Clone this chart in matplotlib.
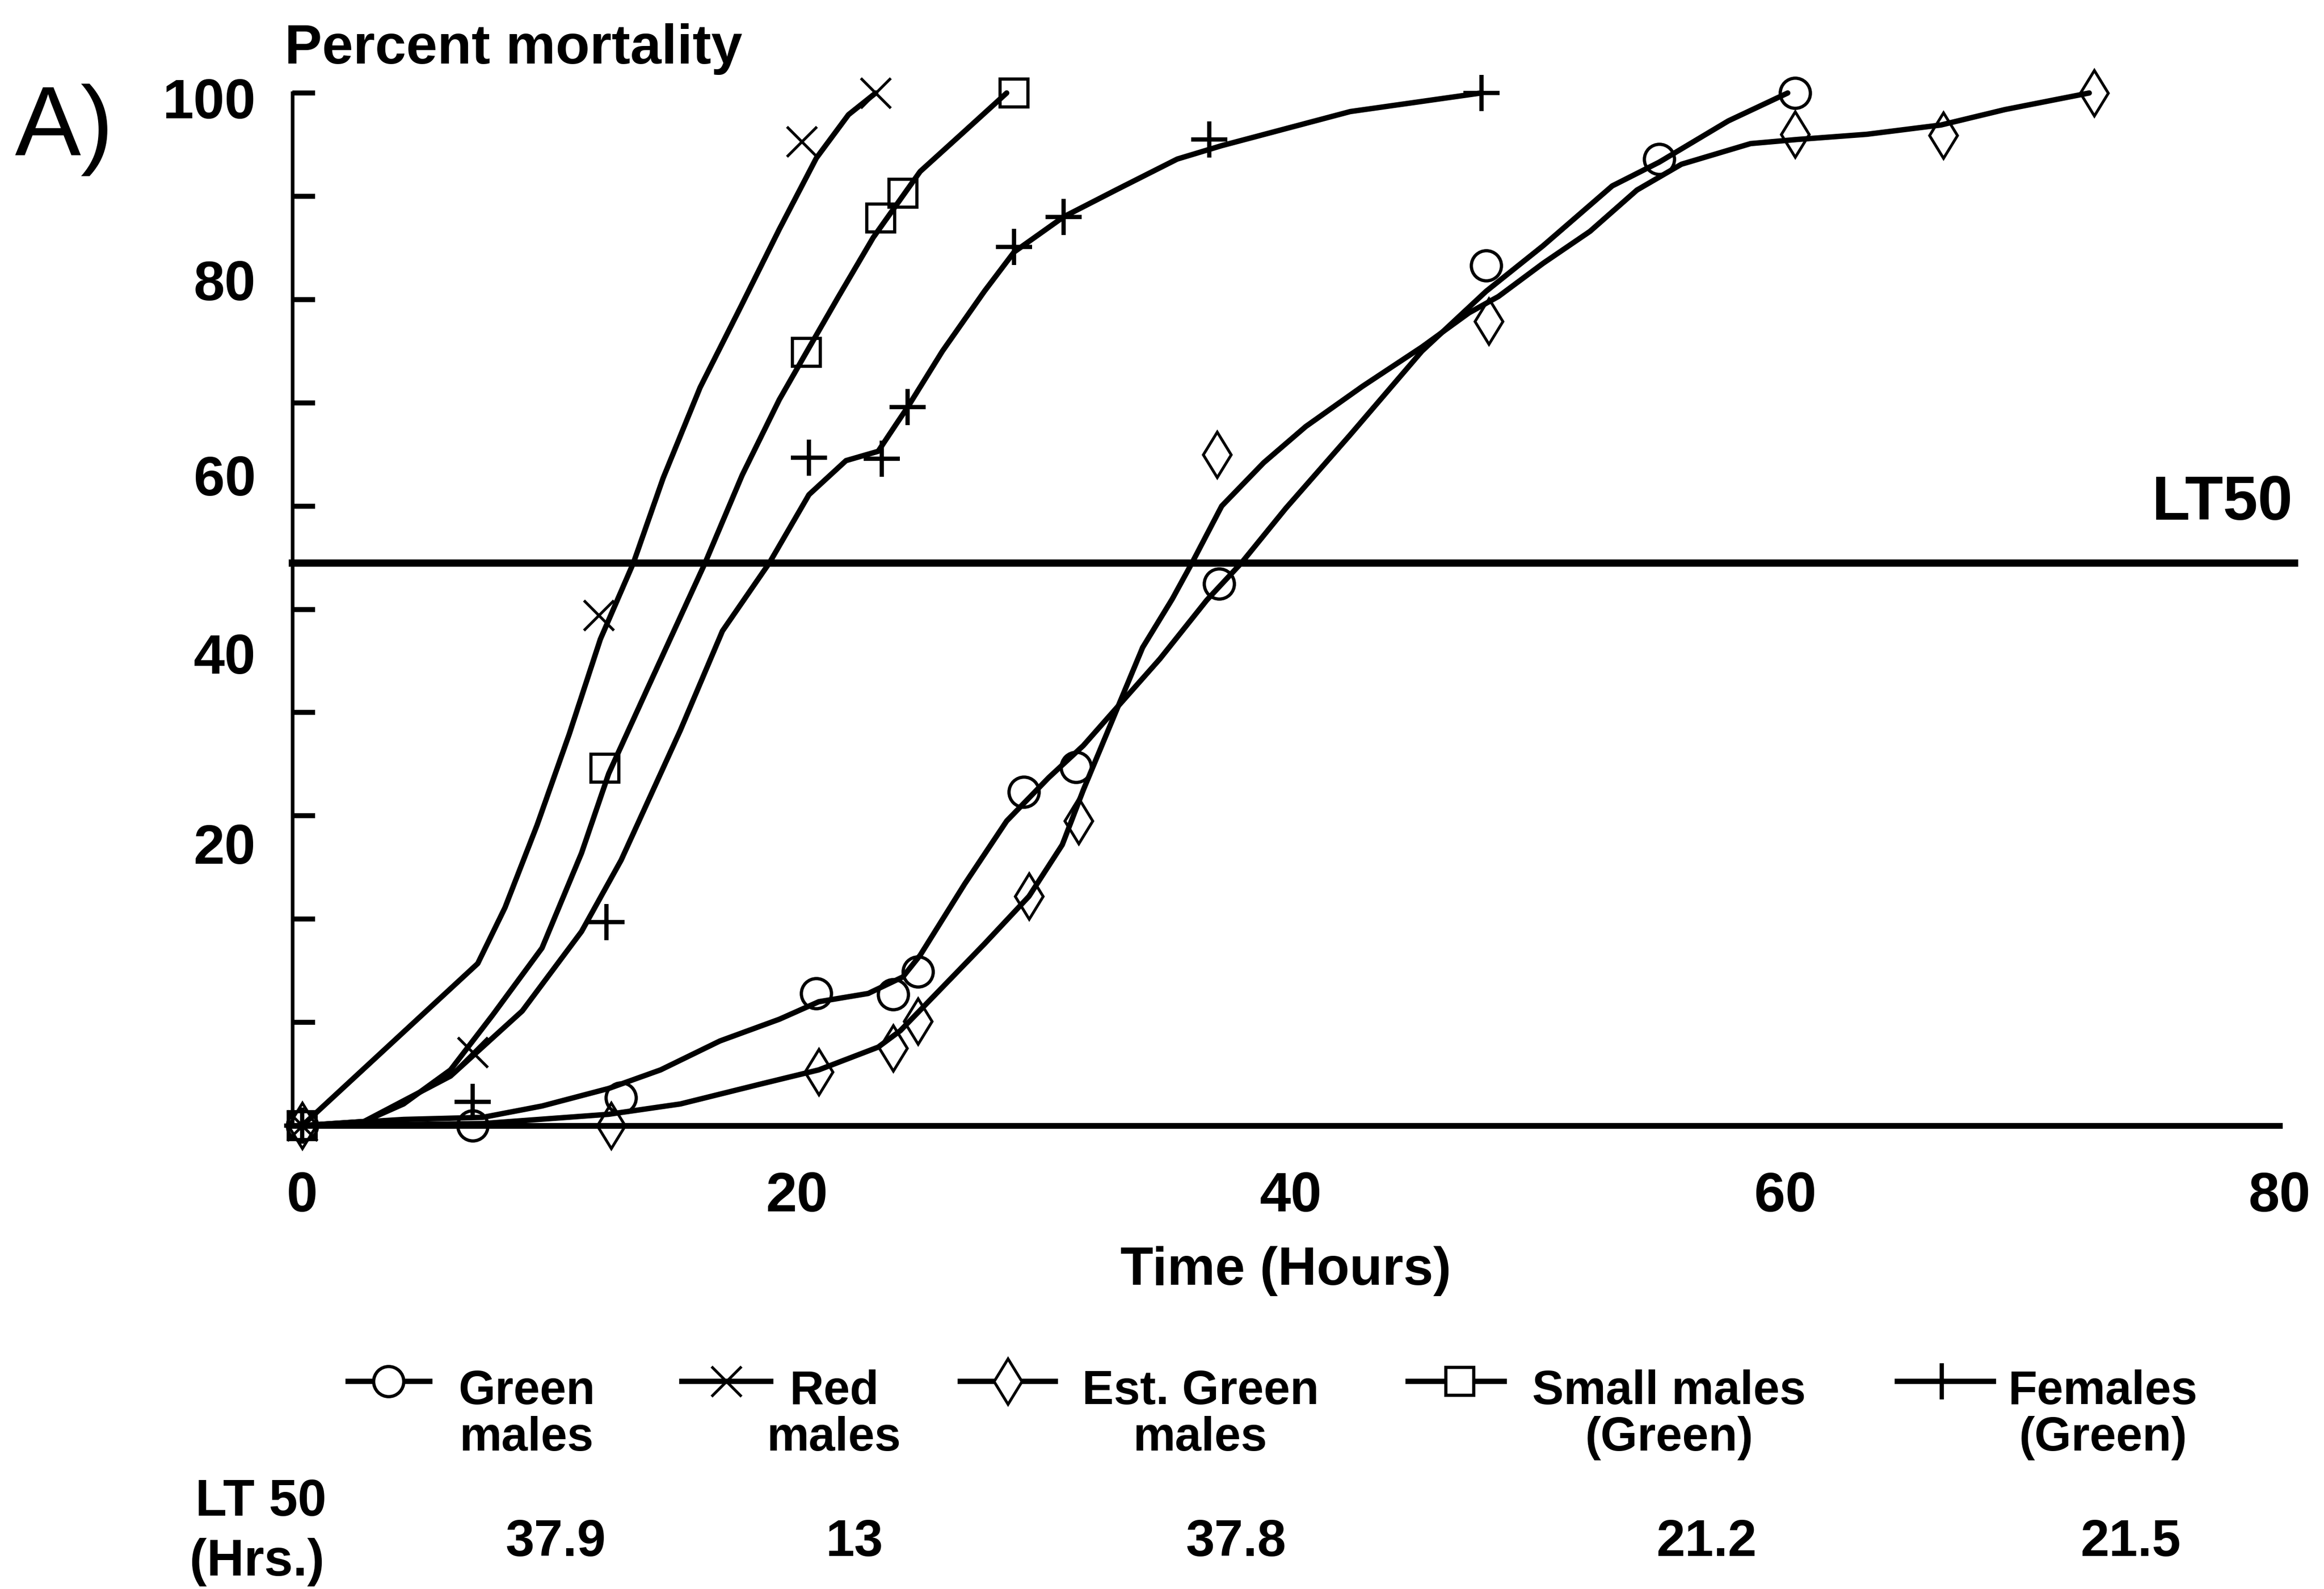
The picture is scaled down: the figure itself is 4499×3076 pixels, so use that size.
import matplotlib
matplotlib.use("Agg")
import matplotlib.pyplot as plt
from matplotlib.lines import Line2D

plt.rcParams['font.family'] = ['Liberation Sans', 'DejaVu Sans']
plt.rcParams['font.weight'] = 'bold'
plt.rcParams['axes.labelweight'] = 'bold'

W, H = 4499, 3076  # output size in pixels (dpi 300)

# ---- data: time (hours) vs percent mortality ----
# observed points (markers)
green_t = [0, 6.9, 12.9, 20.8, 23.9, 24.9, 29.2, 31.3, 37.1, 47.9, 54.9, 60.4]
green_p = [0, 0, 2.7, 12.8, 12.7, 14.9, 32.3, 34.7, 52.5, 83.3, 93.6, 100]
red_t = [0, 6.9, 12.0, 20.2, 23.2]
red_p = [0, 7.1, 49.4, 95.3, 100]
est_t = [0, 12.5, 20.9, 23.9, 24.9, 29.4, 31.4, 37.0, 48.0, 60.4, 66.4, 72.5]
est_p = [0, 0, 5.2, 7.5, 10.1, 22.2, 29.5, 65.0, 77.9, 96.0, 95.9, 100]
small_t = [0, 12.25, 20.4, 23.4, 24.3, 28.8]
small_p = [0, 34.6, 74.9, 87.9, 90.3, 100]
fem_t = [0, 6.9, 12.3, 20.5, 23.45, 24.5, 28.8, 30.8, 36.7, 47.7]
fem_p = [0, 2.3, 19.7, 64.7, 64.6, 69.6, 85.1, 88.0, 95.5, 100]

# hand-drawn fitted curves
green_ct = [0, 4.1, 7.3, 9.7, 12.4, 14.5, 16.9, 19.3, 20.9, 22.9, 24.3, 25.0, 26.8,
            28.5, 30.2, 31.6, 33.0, 34.7, 36.6, 38.0, 39.8, 42.4, 45.3, 47.9, 50.2,
            53.0, 54.9, 57.7, 60.1]
green_cp = [0, 0.6, 0.8, 1.9, 3.6, 5.4, 8.2, 10.3, 12.0, 12.8, 14.4, 16.5, 23.4,
            29.5, 33.7, 36.8, 40.6, 45.2, 50.9, 54.5, 59.8, 66.9, 75.0, 80.8, 85.2,
            91.0, 93.3, 97.3, 100]
red_ct = [0, 7.1, 8.2, 9.5, 10.8, 12.06, 13.4, 14.6, 16.1, 17.7, 19.3, 20.8, 22.1, 23.2]
red_cp = [0, 15.7, 21.1, 29.1, 37.9, 47.1, 54.5, 62.7, 71.5, 79.1, 86.8, 93.7, 97.9, 100]
est_ct = [0, 7.3, 12.4, 15.3, 18.5, 20.9, 23.3, 24.2, 25.9, 27.6, 29.4, 30.75, 31.6,
          32.8, 34.0, 35.2, 36.0, 37.2, 38.9, 40.6, 42.9, 45.3, 47.2, 48.4, 50.2,
          52.1, 54.0, 55.8, 58.6, 60.5, 63.3, 66.3, 68.9, 72.3]
est_cp = [0, 0.2, 1.1, 2.1, 4.0, 5.4, 7.6, 9.2, 13.4, 17.6, 22.2, 27.2, 32.5,
          39.4, 46.3, 51.0, 54.5, 60.0, 64.2, 67.7, 71.6, 75.4, 78.7, 80.3, 83.5,
          86.6, 90.6, 93.1, 95.1, 95.5, 96.0, 96.9, 98.4, 100]
small_ct = [0, 2.5, 4.1, 6.0, 7.7, 9.7, 11.3, 12.4, 14.0, 16.3, 17.8, 19.3, 20.4,
            21.7, 23.1, 25.0, 26.8, 28.5]
small_cp = [0, 0.4, 2.1, 5.4, 10.7, 17.2, 26.4, 34.1, 42.5, 54.5, 63.0, 70.3, 74.9,
            80.3, 86.0, 92.4, 96.3, 100]
fem_ct = [0, 2.5, 6.0, 8.9, 11.3, 12.9, 15.3, 17.0, 18.9, 20.5, 22.0, 23.3, 24.05,
          24.5, 25.9, 27.6, 28.8, 30.8, 33.0, 35.4, 37.2, 42.4, 47.7]
fem_cp = [0, 0.4, 4.8, 11.1, 18.8, 25.7, 38.3, 47.9, 54.5, 61.1, 64.4, 65.3, 68.0,
          69.6, 75.0, 80.8, 84.6, 88.0, 90.7, 93.6, 94.9, 98.2, 100]

lt50_level = 54.5
labels = ["Green\nmales", "Red\nmales", "Est. Green\nmales", "Small males\n(Green)",
          "Females\n(Green)"]
lt50_hours = ["37.9", "13", "37.8", "21.2", "21.5"]
ytick_pos = [99.5, 81.9, 63.0, 45.7, 27.3]
ytick_lab = ["100", "80", "60", "40", "20"]
xticks = [0, 20, 40, 60, 80]

# marker styles: (marker, size, edge width)
styles = [("o", 14, 1.5), ("x", 14, 1.3), ("d", 15, 1.3), ("s", 13, 1.5), ("+", 17, 2.0)]
points = [(green_t, green_p), (red_t, red_p), (est_t, est_p), (small_t, small_p), (fem_t, fem_p)]
curves = [(green_ct, green_cp), (red_ct, red_cp), (est_ct, est_cp),
          (small_ct, small_cp), (fem_ct, fem_cp)]

fig = plt.figure(figsize=(W / 300, H / 300), dpi=300)
ax = fig.add_axes([566 / W, 1 - 2179 / H, (4413 - 566) / W, (2179 - 180) / H])

for (ct, cp), (pt, pp), (mk, ms, mew) in zip(curves, points, styles):
    ax.plot(ct, cp, color="black", lw=2.5, solid_joinstyle="round",
            solid_capstyle="round", clip_on=False)
    ax.plot(pt, pp, ls="none", marker=mk, ms=ms, mew=mew, mec="black",
            mfc="none", clip_on=False)

ax.axhline(lt50_level, xmin=0, xmax=1.0075, color="black", lw=3.4, clip_on=False)

ax.set_xlim(-0.4, 80)
ax.set_ylim(0, 100)
for s in ["top", "right"]:
    ax.spines[s].set_visible(False)
ax.spines["left"].set_linewidth(1.7)
ax.spines["bottom"].set_linewidth(2.7)

ax.set_yticks(ytick_pos, ytick_lab)
ax.set_yticks(range(10, 101, 10), minor=True)
ax.tick_params(axis="y", which="major", length=0, pad=17, labelsize=26)
ax.tick_params(axis="y", which="minor", direction="in", length=10.5, width=2.3)
ax.set_xticks(xticks, [str(v) for v in xticks])
ax.set_xticks([20, 60, 80], minor=True)
ax.tick_params(axis="x", which="major", length=0, pad=21, labelsize=26)
ax.tick_params(axis="x", which="minor", direction="in", length=10, width=1.6)
ax.set_xlabel("Time (Hours)", fontsize=25, fontweight="bold", labelpad=11)

fig.text(551 / W, 1 - 123 / H, "Percent mortality", fontsize=26, ha="left", va="baseline")
fig.text(29 / W, 1 - 301 / H, "A)", fontsize=46, weight="normal", ha="left", va="baseline")
fig.text(4439 / W, 1 - 1006 / H, "LT50", fontsize=29, ha="right", va="baseline")

# legend row drawn by hand: (handle start, handle end, marker x, text centre) in px
leg_pos = [(674, 832, 752, 1020), (1320, 1492, 1406, 1615), (1859, 2043, 1951, 2324),
           (2726, 2912, 2826, 3231), (3673, 3859, 3759, 4071)]
y_h = 1 - 2674 / H
for (x0, x1, xm, xt), (mk, ms, mew), lab in zip(leg_pos, styles, labels):
    fig.add_artist(Line2D([x0 / W, x1 / W], [y_h, y_h], transform=fig.transFigure,
                          color="black", lw=2.5))
    fig.add_artist(Line2D([xm / W], [y_h], transform=fig.transFigure, ls="none",
                          marker=mk, ms=ms, mew=mew, mec="black", mfc="white"))
    top, bottom = lab.split("\n")
    fig.text(xt / W, 1 - 2718 / H, top, fontsize=22, ha="center", va="baseline")
    fig.text(xt / W, 1 - 2808 / H, bottom, fontsize=22, ha="center", va="baseline")

# LT 50 table row
fig.text(505 / W, 1 - 2908 / H, "LT 50", fontsize=24, ha="center", va="center")
fig.text(497 / W, 1 - 3024 / H, "(Hrs.)", fontsize=24, ha="center", va="center")
val_x = [1076, 1654, 2393, 3304, 4125]
for xv, v in zip(val_x, lt50_hours):
    fig.text(xv / W, 1 - 2986 / H, v, fontsize=24, ha="center", va="center")

fig.savefig("out.png", dpi=300, facecolor="white")
